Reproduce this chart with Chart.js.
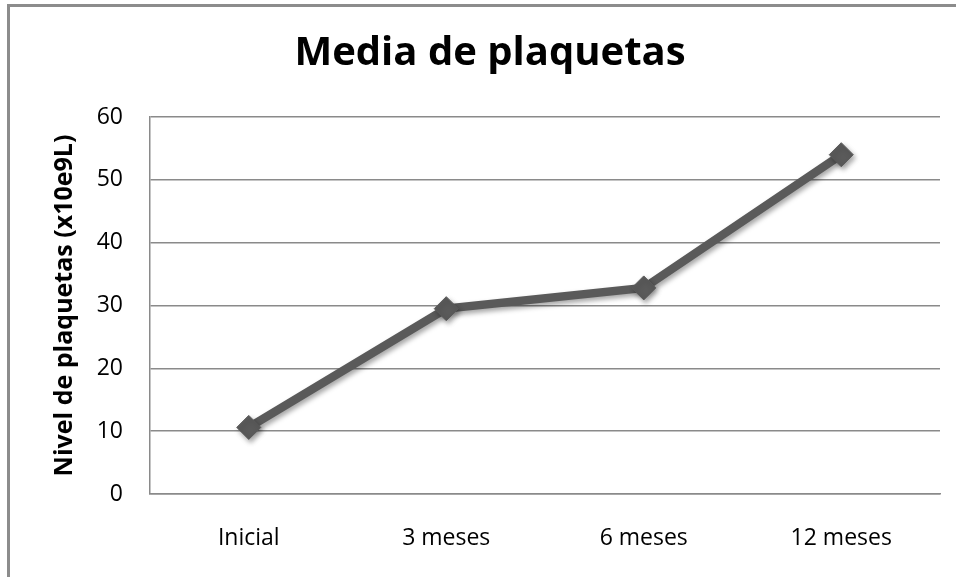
<!DOCTYPE html>
<html>
<head>
<meta charset="utf-8">
<script src="https://cdn.jsdelivr.net/npm/chart.js@4.4.1/dist/chart.umd.min.js"></script>
<style>
  html, body { margin: 0; padding: 0; background: #ffffff; }
  #wrap { position: relative; width: 956px; height: 577px; }
</style>
</head>
<body>
<div id="wrap"><canvas id="chart" width="956" height="577"></canvas></div>
<script>
// Mean platelet count at each follow-up visit
const categories = ['Inicial', '3 meses', '6 meses', '12 meses'];
const plateletMeans = [10.6, 29.5, 32.8, 54.0];
const yTicks = [0, 10, 20, 30, 40, 50, 60];

const FONT = '"Open Sans", Lato, sans-serif';
const LINE_GREY = '#5a5a5a';
const GRID_GREY = '#8a8a8a';

// Outer frame of the chart object
const framePlugin = {
  id: 'frame',
  beforeDraw(chart) {
    const ctx = chart.ctx;
    ctx.save();
    ctx.fillStyle = '#ffffff';
    ctx.fillRect(0, 0, chart.width, chart.height);
    ctx.strokeStyle = '#8c8c8c';
    ctx.lineWidth = 3;
    ctx.beginPath();
    ctx.moveTo(8.5, chart.height + 5);
    ctx.lineTo(8.5, 5.5);
    ctx.lineTo(chart.width + 5, 5.5);
    ctx.stroke();
    ctx.restore();
  }
};

// Soft drop shadow under the series line and markers
const shadowPlugin = {
  id: 'seriesShadow',
  beforeDatasetDraw(chart) {
    const ctx = chart.ctx;
    ctx.save();
    ctx.shadowColor = 'rgba(0,0,0,0.35)';
    ctx.shadowBlur = 5;
    ctx.shadowOffsetX = 2;
    ctx.shadowOffsetY = 3;
  },
  afterDatasetDraw(chart) {
    chart.ctx.restore();
  }
};

new Chart(document.getElementById('chart'), {
  type: 'line',
  data: {
    labels: categories,
    datasets: [{
      label: 'Media de plaquetas',
      data: plateletMeans,
      borderColor: LINE_GREY,
      backgroundColor: LINE_GREY,
      borderWidth: 8.5,
      tension: 0,
      pointStyle: 'rectRot',
      pointRadius: 12,
      pointHoverRadius: 12,
      pointBackgroundColor: LINE_GREY,
      pointBorderColor: LINE_GREY,
      pointBorderWidth: 1
    }]
  },
  options: {
    responsive: false,
    animation: false,
    devicePixelRatio: 1,
    layout: { padding: { left: 40, right: 16, top: 0, bottom: 0 } },
    plugins: {
      legend: { display: false },
      tooltip: { enabled: false },
      title: {
        display: true,
        text: 'Media de plaquetas',
        color: '#000000',
        font: { family: FONT, size: 40, weight: 'bold', lineHeight: 1.2 },
        padding: { top: 30, bottom: 39 }
      }
    },
    scales: {
      x: {
        offset: true,
        grid: { display: false, drawTicks: false },
        border: { display: true, color: GRID_GREY, width: 1.5 },
        ticks: {
          color: '#000000',
          font: { family: FONT, size: 23 },
          padding: 31
        },
        afterFit(scale) { scale.height = 83; }
      },
      y: {
        min: 0,
        max: 60,
        afterBuildTicks(scale) { scale.ticks = yTicks.map(v => ({ value: v })); },
        grid: { color: GRID_GREY, lineWidth: 1.5, drawTicks: false },
        border: { display: true, color: GRID_GREY, width: 1.5 },
        ticks: {
          color: '#000000',
          font: { family: FONT, size: 23 },
          padding: 27
        },
        title: {
          display: true,
          text: 'Nivel de plaquetas (x10e9L)',
          color: '#000000',
          font: { family: FONT, size: 25, weight: 'bold' },
          padding: { top: 10, bottom: 0 }
        },
        afterFit(scale) { scale.width = 110; }
      }
    }
  },
  plugins: [framePlugin, shadowPlugin]
});
</script>
</body>
</html>
